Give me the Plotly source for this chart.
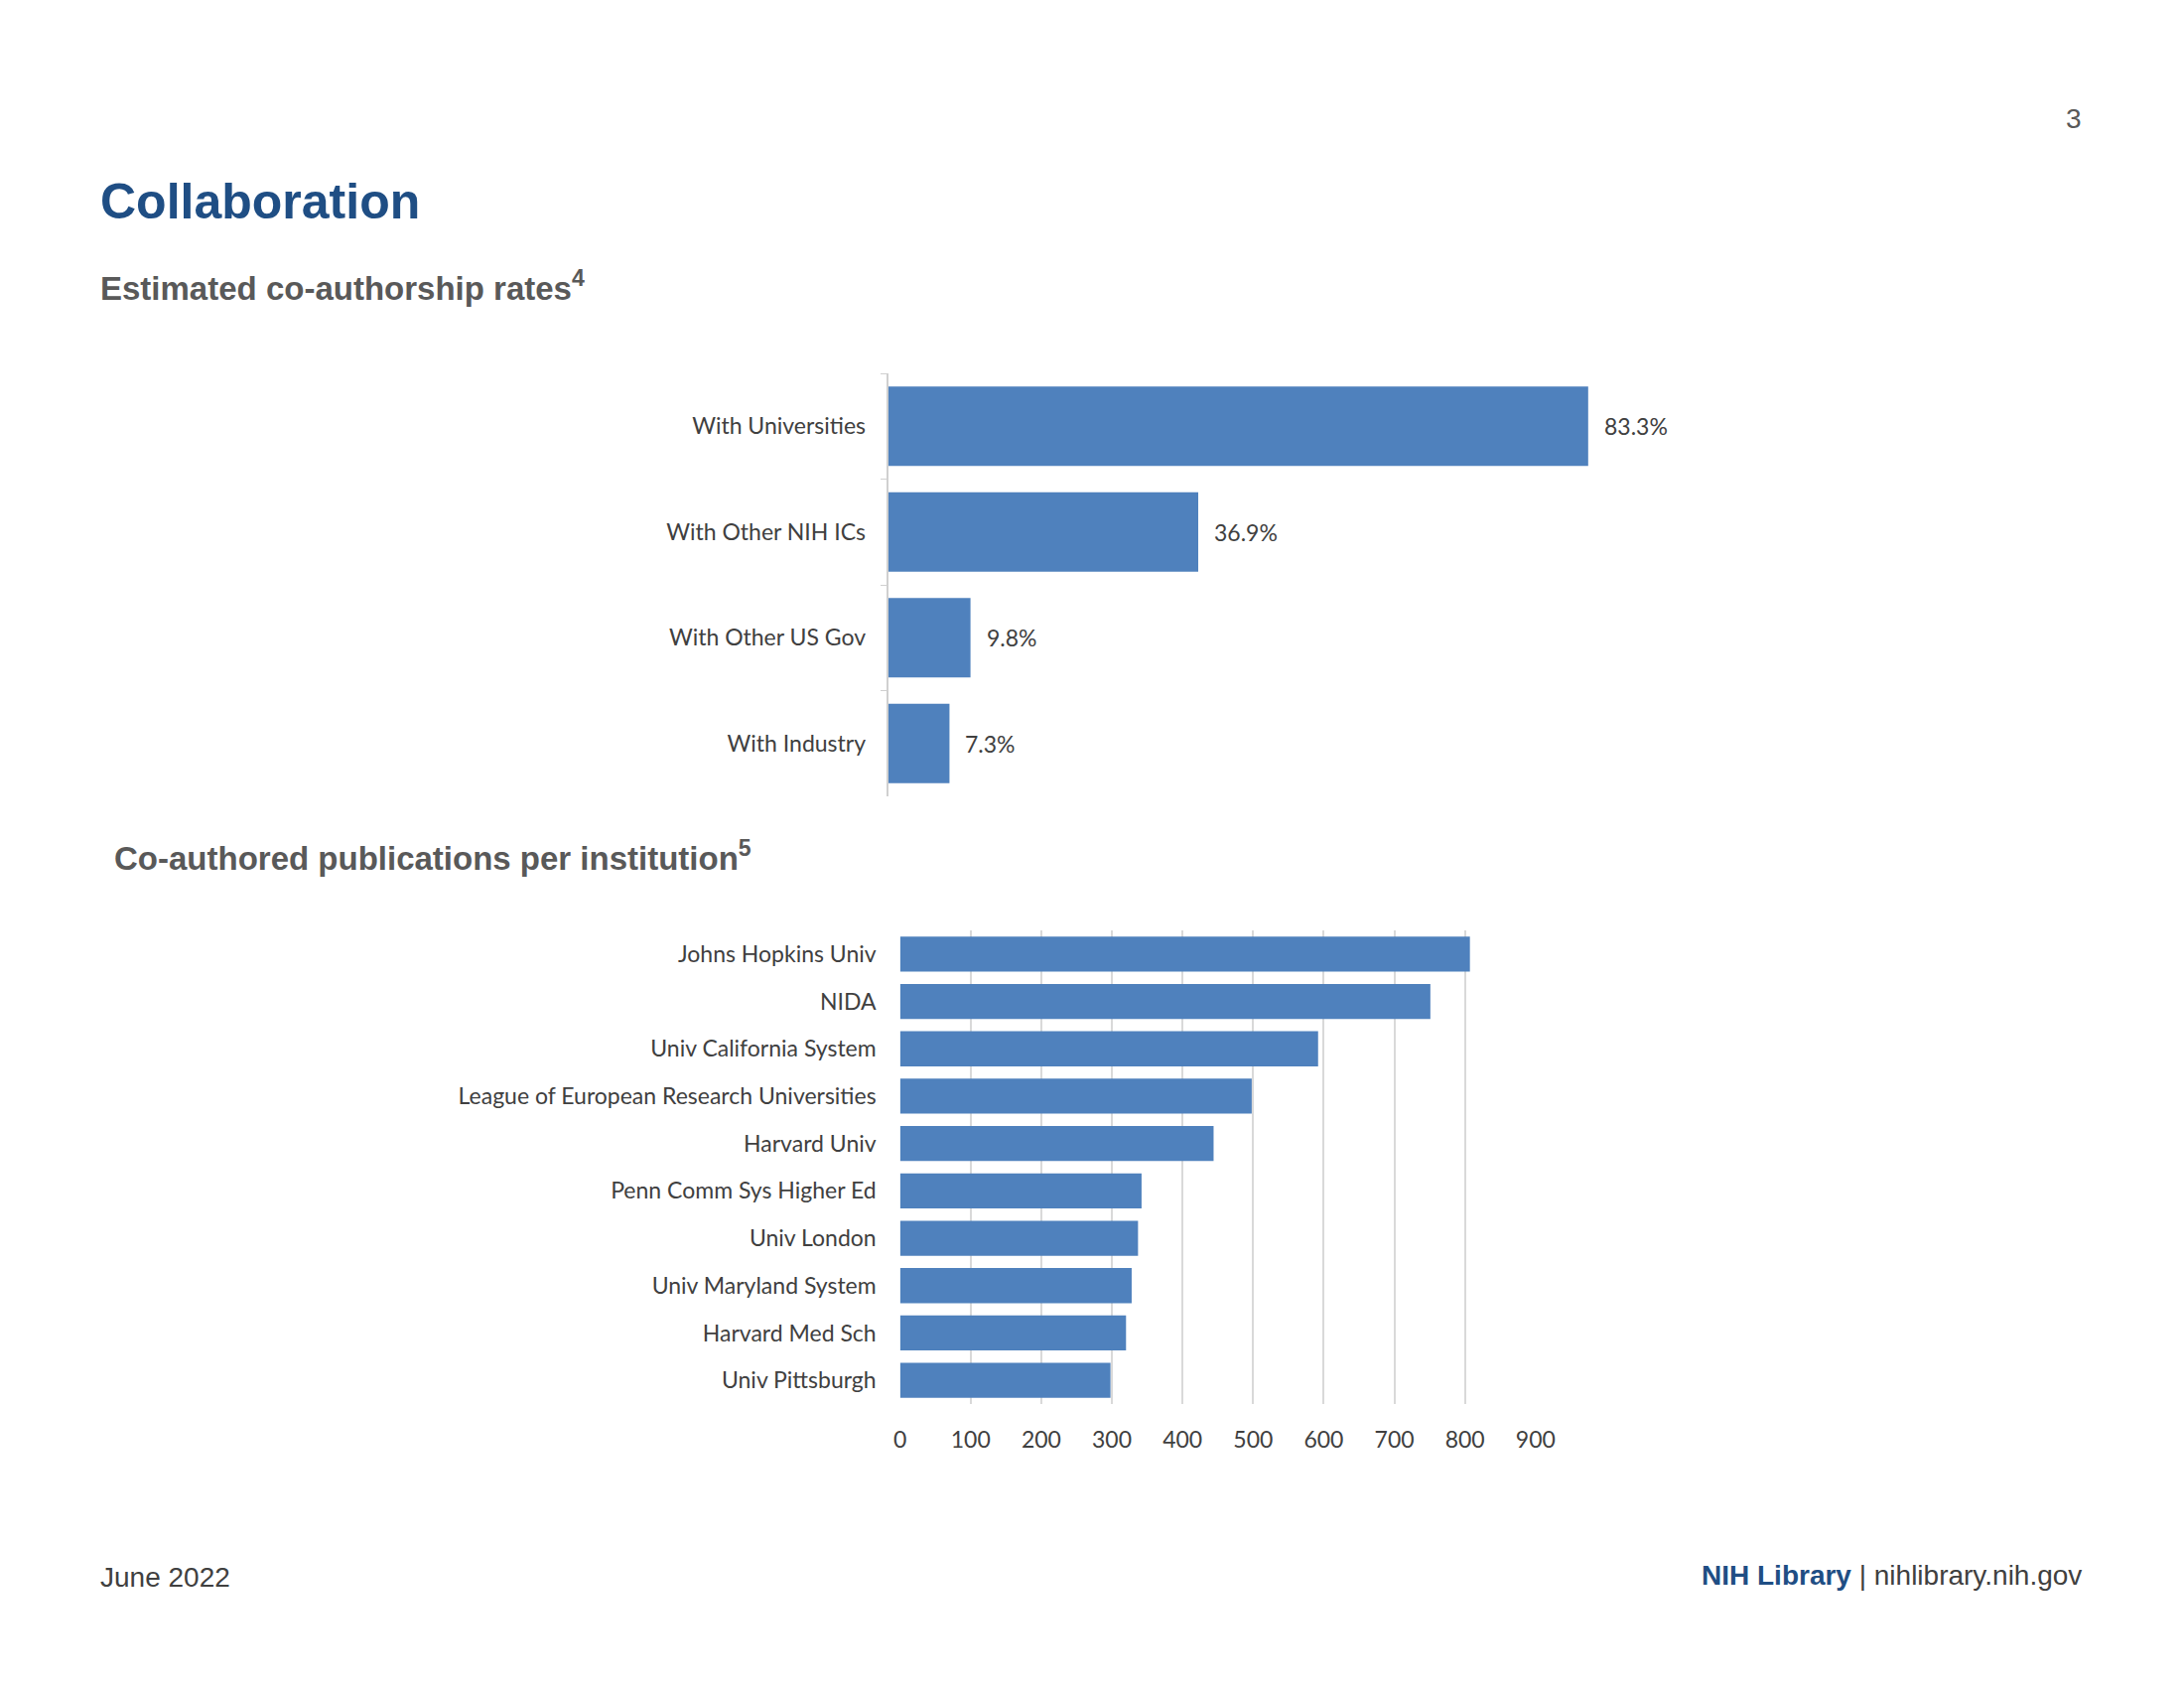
import plotly.graph_objects as go

# --- data ---
rate_categories = ["With Universities", "With Other NIH ICs", "With Other US Gov", "With Industry"]
rate_values = [83.3, 36.9, 9.8, 7.3]

inst_categories = ["Johns Hopkins Univ", "NIDA", "Univ California System",
                   "League of European Research Universities", "Harvard Univ",
                   "Penn Comm Sys Higher Ed", "Univ London", "Univ Maryland System",
                   "Harvard Med Sch", "Univ Pittsburgh"]
inst_values = [807, 751, 592, 498, 444, 342, 337, 328, 320, 298]
inst_ticks = [0, 100, 200, 300, 400, 500, 600, 700, 800, 900]

BAR = "#4F81BD"
TXT = "#404040"
LBLFONT = dict(family="Lato, Calibri, sans-serif", size=23, color=TXT)

W, H = 2200, 1700
# page renders the figure ~2169px wide with an 8px offset; map target pixels to paper fractions
def fx(px):
    return (px - 8) / 2169.0

def fy(px):
    return 1 - px / H

fig = go.Figure()

fig.add_trace(go.Bar(
    x=rate_values, y=rate_categories, orientation="h",
    marker=dict(color=BAR, line=dict(width=0)), width=0.75,
    xaxis="x", yaxis="y", showlegend=False, hoverinfo="x+y",
))
fig.add_trace(go.Bar(
    x=inst_values, y=inst_categories, orientation="h",
    marker=dict(color=BAR, line=dict(width=0)), width=0.74,
    xaxis="x2", yaxis="y2", showlegend=False, hoverinfo="x+y",
))

annotations = []
for cat, v in zip(rate_categories, rate_values):
    annotations.append(dict(x=v, y=cat, xref="x", yref="y", text=f"{v:.1f}%",
                            showarrow=False, xanchor="left", xshift=14,
                            font=LBLFONT))

def paper_text(x, y, text, size, color, bold=False, xanchor="left",
               family="Arial, Liberation Sans, sans-serif"):
    t = f"<b>{text}</b>" if bold else text
    annotations.append(dict(x=fx(x), y=fy(y), xref="paper", yref="paper", text=t,
                            showarrow=False, xanchor=xanchor, yanchor="middle",
                            font=dict(family=family, size=size, color=color)))

paper_text(100, 203, "Collaboration", 50, "#1F4E84", bold=True)
paper_text(100, 288, "Estimated co-authorship rates<sup>4</sup>", 33, "#595959", bold=True)
paper_text(114, 862, "Co-authored publications per institution<sup>5</sup>", 33, "#595959", bold=True)
paper_text(2096, 119, "3", 28, "#595959", xanchor="right")
paper_text(100, 1588, "June 2022", 28, "#404040")
paper_text(2096, 1586,
           "<b><span style='color:#1F4E84'>NIH Library</span></b> | nihlibrary.nih.gov",
           28, "#404040", xanchor="right")

fig.update_layout(
    width=W, height=H,
    margin=dict(l=0, r=0, t=0, b=0),
    paper_bgcolor="white", plot_bgcolor="white",
    annotations=annotations,
    xaxis=dict(domain=[fx(894), fx(1739)], range=[0, 100], visible=False, fixedrange=True),
    yaxis=dict(domain=[fy(802), fy(376)], anchor="x", autorange="reversed",
               showline=True, linecolor="#D0D0D0", linewidth=2,
               ticks="outside", tickson="boundaries", ticklen=6, tickcolor="#D0D0D0",
               tickfont=LBLFONT, ticklabelstandoff=16, showgrid=False),
    xaxis2=dict(domain=[fx(906), fx(1545)], range=[0, 900], anchor="y2",
                tickvals=inst_ticks, ticktext=[str(t) for t in inst_ticks],
                showgrid=True, gridcolor="#D9D9D9", gridwidth=2,
                zeroline=False, showline=False, ticks="",
                tickfont=LBLFONT, ticklabelstandoff=20),
    yaxis2=dict(domain=[fy(1414), fy(937)], anchor="x2", autorange="reversed",
                showline=False, ticks="", showgrid=False,
                tickfont=LBLFONT, ticklabelstandoff=23),
)

fig.write_html("out.html")
